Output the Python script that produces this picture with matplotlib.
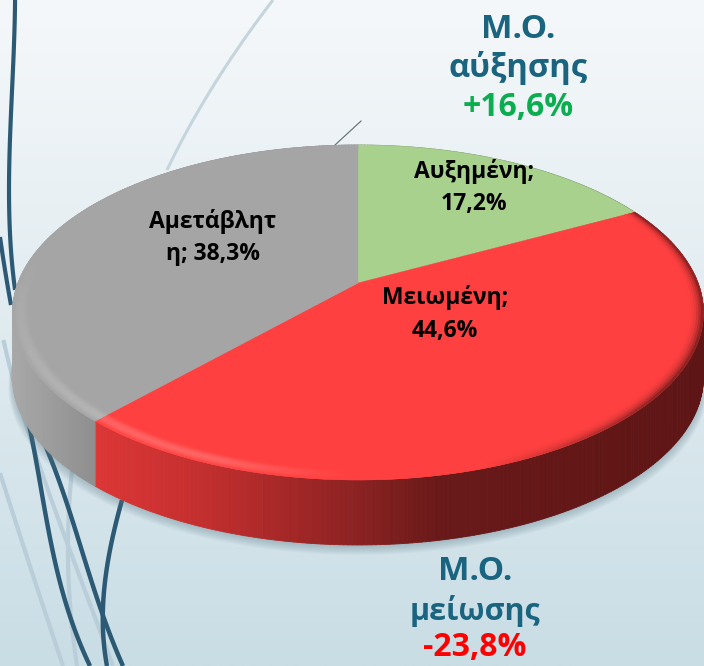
import numpy as np
import matplotlib
matplotlib.use("Agg")
import matplotlib.pyplot as plt
from matplotlib.collections import PolyCollection
from matplotlib.colors import LinearSegmentedColormap, to_rgb

# ==============================
# Data
# ==============================
labels = [["Αυξημένη;", "17,2%"], ["Μειωμένη;", "44,6%"], ["Αμετάβλητ", "η; 38,3%"]]
values = [17.2, 44.6, 38.3]
face_colors = ["#a9d18e", "#ff4040", "#a5a5a5"]

W, H = 704, 666
CX, APEX_Y = 358, 283
DEPTH = 65
D, A, C = 340, 162.3, 0.176
FONT = "Open Sans"


# circle coords -> picture pixels, with a bit of perspective
def project(x, y):
    w = 1 + C * y
    return CX + D * x / w, APEX_Y - A * y / w


def curve(ax, pts, color, lw):
    pts = np.array(pts, dtype=float)
    deg = min(3, len(pts) - 1)
    fit = np.polyfit(pts[:, 1], pts[:, 0], deg)
    ys = np.linspace(pts[:, 1].min(), pts[:, 1].max(), 100)
    ax.plot(np.polyval(fit, ys), ys, color=color, lw=lw, solid_capstyle="butt", zorder=1)


def mix(c1, c2, t):
    c1, c2 = np.array(to_rgb(c1)), np.array(to_rgb(c2))
    return tuple(c1 + (c2 - c1) * t)


def wall_color(i, px):
    if i == 1:
        xs = [100, 200, 280, 360, 440, 703]
        cols = ["#dc3636", "#c42f2f", "#a82828", "#8a2222", "#691919", "#5e1515"]
    elif i == 2:
        xs = [13, 100]
        cols = ["#a8a8a8", "#8d8d8d"]
    else:
        xs = [358, 640]
        cols = ["#7f9a6b", "#5f7550"]
    rgb = [to_rgb(c) for c in cols]
    return tuple(np.interp(px, xs, [c[k] for c in rgb]) for k in range(3))


fig = plt.figure(figsize=(W / 100, H / 100), dpi=100)
ax = fig.add_axes([0, 0, 1, 1])
ax.set_xlim(0, W)
ax.set_ylim(H, 0)
ax.axis("off")

# ==============================
# Background and decoration lines
# ==============================
cmap = LinearSegmentedColormap.from_list("bg", ["#f5f8fa", "#e0ebf0", "#c9dde5"])
ax.imshow(np.linspace(0, 1, 256).reshape(-1, 1), extent=[0, W, H, 0], cmap=cmap, aspect="auto", zorder=0)

light = "#b9ced8"
dark = "#2c5a75"
curve(ax, [(273, 0), (217, 80), (167, 170)], "#c5d5dd", 2.2)
curve(ax, [(3, 340), (23, 410), (50, 500), (100, 627), (112, 666)], light, 3)
curve(ax, [(0, 473), (27, 557), (63, 666)], light, 3)
curve(ax, [(72, 470), (68, 557), (77, 666)], light, 3)
curve(ax, [(15, 0), (13, 75), (10, 130), (10, 230), (15, 290)], dark, 3)
curve(ax, [(0, 237), (5, 270), (11, 305)], dark, 3)
curve(ax, [(28, 420), (43, 500), (67, 607), (90, 666)], dark, 3.2)
curve(ax, [(43, 440), (70, 513), (100, 607), (123, 666)], dark, 3.2)
curve(ax, [(122, 500), (107, 567), (103, 607), (107, 666)], dark, 3.2)

# leader line
ax.plot([335, 361], [145, 121], color="#5f6b70", lw=0.8, zorder=1)

# ==============================
# Pie
# ==============================
shares = np.array(values) / sum(values)
edges = np.concatenate([[0], np.cumsum(shares)]) * 2 * np.pi

# soft shadow under the pie
t = np.linspace(0, 2 * np.pi, 300)
rx, ry = project(np.sin(t), np.cos(t))
for k in range(9):
    sx = CX + (rx - CX) * (1 + k * 0.0015)
    sy = ry + DEPTH + 1 + k * 1.1
    ax.fill(sx, sy, color="#5f7d8a", alpha=0.05, lw=0, zorder=2)

# side wall
quads, cols = [], []
for i in range(3):
    n = max(int((edges[i + 1] - edges[i]) * 90), 2)
    th = np.linspace(edges[i], edges[i + 1], n + 1)
    px, py = project(np.sin(th), np.cos(th))
    for j in range(n):
        quads.append([(px[j], py[j]), (px[j + 1], py[j + 1]),
                      (px[j + 1], py[j + 1] + DEPTH), (px[j], py[j] + DEPTH)])
        cols.append(wall_color(i, (px[j] + px[j + 1]) / 2))
ax.add_collection(PolyCollection(quads, facecolors=cols, edgecolors=cols, linewidths=0.6, zorder=3))

# top faces
for i in range(3):
    th = np.linspace(edges[i], edges[i + 1], 200)
    px, py = project(np.sin(th), np.cos(th))
    ax.fill(np.r_[CX, px], np.r_[APEX_Y, py], color=face_colors[i], lw=0.3, zorder=4)

# bevel round the rim: light on the front left, dark on the right
radii = np.linspace(0.955, 1.0, 8)
quads, cols = [], []
for i in range(1, 3):
    n = max(int((edges[i + 1] - edges[i]) * 90), 2)
    th = np.linspace(edges[i], edges[i + 1], n + 1)
    for j in range(n):
        mid = (th[j] + th[j + 1]) / 2
        front = np.clip(-np.cos(mid) + 0.2, 0, 1)
        left = np.clip((-np.sin(mid) - 0.02) * 3, 0, 1)
        right = np.clip((np.sin(mid) - 0.3) * 2, 0, 1)
        for k in range(len(radii) - 1):
            r0, r1 = radii[k], radii[k + 1]
            x00, y00 = project(r0 * np.sin(th[j]), r0 * np.cos(th[j]))
            x01, y01 = project(r0 * np.sin(th[j + 1]), r0 * np.cos(th[j + 1]))
            x11, y11 = project(r1 * np.sin(th[j + 1]), r1 * np.cos(th[j + 1]))
            x10, y10 = project(r1 * np.sin(th[j]), r1 * np.cos(th[j]))
            quads.append([(x00, y00), (x01, y01), (x11, y11), (x10, y10)])
            u = (k + 0.5) / (len(radii) - 1)
            base = mix(face_colors[i], "#ffffff", 0.2 * front * left * np.sin(np.pi * u))
            cols.append(mix(base, "#5e1515", right * u ** 2.5 * 0.85))
ax.add_collection(PolyCollection(quads, facecolors=cols, edgecolors=cols, linewidths=0.3, zorder=5))

# ==============================
# Text
# ==============================
label_pos = [[(474, 172), (474, 204)], [(445, 297), (445, 331)], [(213, 221), (213, 254)]]
for i in range(3):
    for line, (x, y) in zip(labels[i], label_pos[i]):
        ax.text(x, y, line, ha="center", va="center", fontsize=16.5, fontweight="bold",
                family=FONT, color="black", zorder=6)

teal = "#1a6480"
big = dict(ha="center", va="center", fontweight="bold", family=FONT, zorder=6)
ax.text(518, 29, "Μ.Ο.", fontsize=24, color=teal, **big)
ax.text(518, 68, "αύξησης", fontsize=23.5, color=teal, **big)
ax.text(518, 108, "+16,6%", fontsize=23, color="#0cad50", **big)
ax.text(475, 572, "Μ.Ο.", fontsize=24, color=teal, **big)
ax.text(475, 611, "μείωσης", fontsize=22, color=teal, **big)
ax.text(475, 647, "-23,8%", fontsize=23, color="#ff0000", **big)

fig.savefig("out.png", dpi=100)
